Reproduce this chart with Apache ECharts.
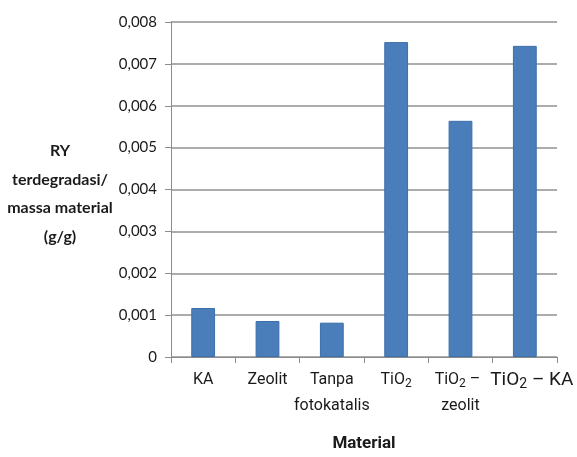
<!DOCTYPE html>
<html><head><meta charset="utf-8">
<script src="https://cdn.jsdelivr.net/npm/echarts@6/dist/echarts.min.js"></script>
<style>html,body{margin:0;padding:0;background:#fff}#c{width:577px;height:457px}</style>
</head><body><div id="c"></div>
<script>
const categories = ['KA', 'Zeolit', 'Tanpa\nfotokatalis', '{t|TiO}{s|2}', '{t|TiO}{s|2}{d| –}\n{t|zeolit}', '{b|TiO}{bs|2}{b| – KA}'];
const values = [0.00117, 0.00086, 0.00082, 0.00752, 0.00564, 0.00743];
const yTicks = { min: 0, max: 0.008, interval: 0.001 };
const yTitleLines = ['RY', 'terdegradasi/', 'massa material', '(g/g)'];
const xTitle = 'Material';

const chart = echarts.init(document.getElementById('c'), null, {renderer: 'canvas'});
const txt = '#1a1a1a';
const narrow = 'Roboto, "Liberation Sans", sans-serif';
chart.setOption({
  animation: false,
  grid: {left: 171, right: 20, top: 22, bottom: 100, containLabel: false},
  xAxis: {
    type: 'category', data: categories,
    axisLine: {lineStyle: {color: '#8c8c8c', width: 1}},
    axisTick: {show: true, alignWithLabel: false, length: 6, lineStyle: {color: '#8c8c8c'}},
    axisLabel: {
      interval: 0, color: txt, fontFamily: narrow, fontSize: 16, lineHeight: 26, margin: 10,
      rich: {
        t: {fontFamily: narrow, fontSize: 16, color: txt, lineHeight: 26},
        d: {fontFamily: narrow, fontSize: 16, color: txt, lineHeight: 26, padding: [0, 6, 0, 0]},
        s: {fontFamily: narrow, fontSize: 12, color: txt, lineHeight: 26, padding: [7, 0, 0, 0]},
        b: {fontFamily: narrow, fontSize: 19, color: txt, lineHeight: 26},
        bs: {fontFamily: narrow, fontSize: 14, color: txt, lineHeight: 26, padding: [8, 0, 0, 0]}
      },
      formatter: (v, i) => i === 5 ? '{p|}' + v : v
    },
    name: xTitle, nameLocation: 'middle', nameGap: 78,
    nameTextStyle: {fontFamily: narrow, fontWeight: 'bold', fontSize: 17, color: txt}
  },
  yAxis: {
    type: 'value', min: yTicks.min, max: yTicks.max, interval: yTicks.interval,
    axisLine: {show: true, lineStyle: {color: '#8c8c8c', width: 1}},
    axisTick: {show: true, length: 6, lineStyle: {color: '#8c8c8c'}},
    splitLine: {lineStyle: {color: '#919191', width: 1.5}},
    axisLabel: {
      color: txt, fontFamily: 'Lato, "Open Sans", sans-serif', fontSize: 15, margin: 14,
      formatter: v => v === 0 ? '0' : v.toFixed(3).replace('.', ',')
    }
  },
  series: [{
    type: 'bar', data: values, barWidth: '37%',
    itemStyle: {color: '#4a7ebb', borderColor: '#3d6fa8', borderWidth: 1}
  }],
  graphic: [{
    type: 'text', x: 60, y: 137,
    style: {
      text: yTitleLines.join('\n'), align: 'center', verticalAlign: 'top',
      font: 'bold 16px Lato, "Open Sans", sans-serif', lineHeight: 28.5, fill: txt
    }
  }]
});
// widen the last label's left side so it sits right of its slot centre, as in the source
chart.setOption({xAxis: {axisLabel: {rich: {p: {width: 14, lineHeight: 26}}}}});
</script></body></html>
